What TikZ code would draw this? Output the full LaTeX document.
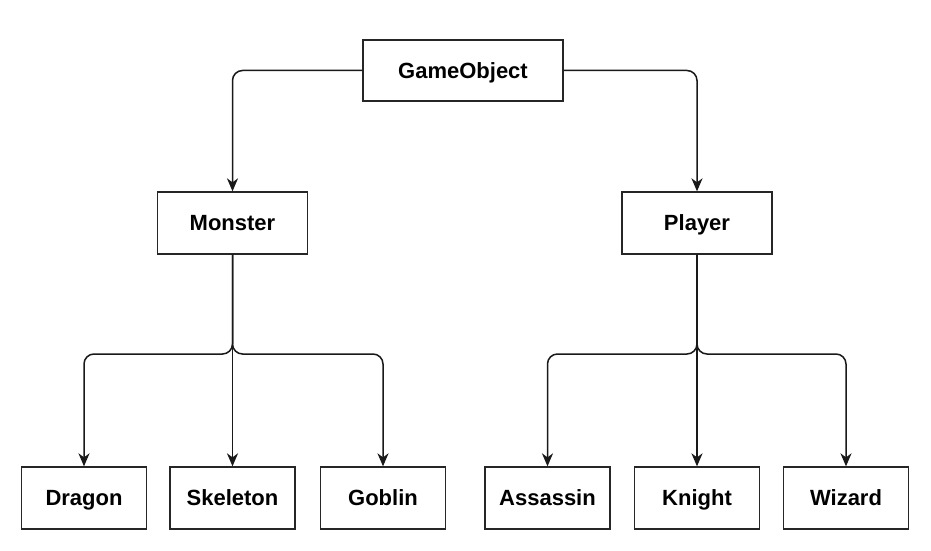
\documentclass[tikz,border=0pt]{standalone}
\usepackage{fontspec}
\setmainfont{Liberation Sans}
\usetikzlibrary{arrows.meta}
\begin{document}
\begin{tikzpicture}[x=1pt,y=1pt,
  box/.style={draw=black!85,line width=1.3pt,minimum height=62pt,inner sep=0pt,
    text height=15.8pt,text depth=0pt,
    font=\fontsize{22}{26}\selectfont\bfseries},
  conn/.style={draw=black!90,line width=1.5pt,rounded corners=10pt,
    -{Stealth[length=13pt,width=11pt,inset=4pt]}}]
\useasboundingbox[fill=white] (0,0) rectangle (931,550);
\node[box,minimum width=200pt,minimum height=61pt] (go) at (463,479.5) {GameObject};
\node[box,minimum width=150pt] (mon) at (232.5,327) {Monster};
\node[box,minimum width=150pt] (pl) at (697,327) {Player};
\node[box,minimum width=125pt] (dr) at (84,52) {Dragon};
\node[box,minimum width=125pt] (sk) at (232.5,52) {Skeleton};
\node[box,minimum width=125pt] (gb) at (383,52) {Goblin};
\node[box,minimum width=125pt] (as) at (547.5,52) {Assassin};
\node[box,minimum width=125pt] (kn) at (697,52) {Knight};
\node[box,minimum width=125pt] (wz) at (846,52) {Wizard};
\draw[conn] (go.west) -| (mon.north);
\draw[conn] (go.east) -| (pl.north);
\coordinate (mj) at (232.5,196);
\coordinate (pj) at (697,196);
\draw[conn] (mon.south) -- (mj) -| (dr.north);
\draw[conn] (mon.south) -- (sk.north);
\draw[conn] (mon.south) -- (mj) -| (gb.north);
\draw[conn] (pl.south) -- (pj) -| (as.north);
\draw[conn] (pl.south) -- (kn.north);
\draw[conn] (pl.south) -- (pj) -| (wz.north);
\end{tikzpicture}
\end{document}
